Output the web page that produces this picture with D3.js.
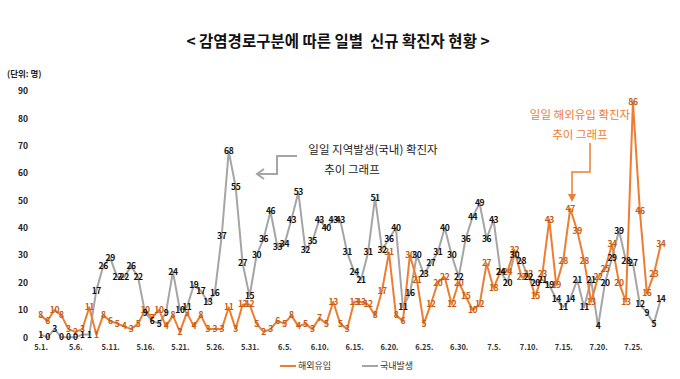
<!DOCTYPE html>
<html>
<head>
<meta charset="utf-8">
<script src="https://cdn.jsdelivr.net/npm/d3@7"></script>
<style>
  body { margin: 0; background: #fff; }
  svg text { font-family: "Noto Sans CJK KR", "Noto Sans", sans-serif; }
</style>
</head>
<body>
<div id="chart"></div>
<script>
// categories: every day from 5.1. to 7.29.
const days = d3.timeDay.range(new Date(2020, 4, 1), new Date(2020, 6, 30))
    .map(d3.timeFormat('%-m.%-d.'));

const tickLabels = ['5.1.', '5.6.', '5.11.', '5.16.', '5.21.', '5.26.', '5.31.',
  '6.5.', '6.10.', '6.15.', '6.20.', '6.25.', '6.30.',
  '7.5.', '7.10.', '7.15.', '7.20.', '7.25.'];

const yTicks = [0, 10, 20, 30, 40, 50, 60, 70, 80, 90];

// 해외유입
const imported = [
  8, 6, 10, 8, 3, 2, 3, 11, 1, 8, 6, 5, 4, 3, 5, 10, 7, 10, 4, 8,
  2, 9, 4, 8, 3, 3, 3, 11, 3, 12, 12, 5, 2, 3, 6, 5, 8, 4, 5, 3,
  7, 5, 13, 5, 3, 13, 13, 12, 8, 17, 31, 8, 6, 30, 21, 5, 12, 20, 22, 12,
  20, 15, 10, 12, 27, 18, 24, 24, 32, 22, 23, 15, 23, 43, 19, 28, 47, 39, 28, 13,
  22, 25, 34, 20, 13, 86, 46, 16, 23, 34
];

// 국내발생
const local = [
  1, 0, 3, 0, 0, 0, 1, 1, 17, 26, 29, 22, 22, 26, 22, 9, 6, 5, 9, 24,
  10, 11, 19, 17, 13, 16, 37, 68, 55, 27, 15, 30, 36, 46, 33, 34, 43, 53, 32, 35,
  43, 40, 43, 43, 31, 24, 21, 31, 51, 32, 36, 40, 11, 16, 30, 23, 27, 31, 40, 30,
  22, 36, 44, 49, 36, 43, 24, 20, 30, 28, 22, 20, 21, 19, 14, 11, 14, 21, 11, 21,
  4, 20, 29, 39, 28, 27, 12, 9, 5, 14
];

const seriesNames = ['해외유입', '국내발생'];
const lineColors = ['#ed7d31', '#a5a5a5'];
const labelColors = ['#c55a11', '#111111'];

class DailyChart {

  constructor(config) {
    this.config = config;
  }

  init() {
    const c = this.config;
    this.svg = d3.select(`#${c.anchor}`)
        .append('svg')
        .attr('width', c.width)
        .attr('height', c.height);

    this.x = d3.scalePoint()
        .domain(days)
        .range([40.5, 660.8]);
    this.y = d3.scaleLinear()
        .domain([0, 90])
        .range([337.3, 91]);

    this.drawFrame();
    this.drawSeries();
    this.drawNotes();
    this.drawLegend();
  }

  drawFrame() {
    const svg = this.svg;

    svg.append('text')
        .attr('x', 338).attr('y', 47)
        .attr('text-anchor', 'middle')
        .attr('font-size', 15.5).attr('font-weight', 'bold')
        .attr('fill', '#111')
        .attr('xml:space', 'preserve')
        .text('< 감염경로구분에 따른 일별  신규 확진자 현황 >');

    svg.append('text')
        .attr('x', 7).attr('y', 77)
        .attr('font-size', 8.5).attr('font-weight', 'bold')
        .attr('fill', '#222')
        .text('(단위: 명)');

    const yAxis = d3.axisLeft(this.y)
        .tickValues(yTicks)
        .tickSize(0)
        .tickPadding(0);
    svg.append('g')
        .attr('transform', 'translate(28,0)')
        .call(yAxis)
        .call((g) => g.select('.domain').remove())
        .selectAll('text')
        .attr('font-size', 8.5).attr('font-weight', 'bold')
        .attr('fill', '#222');

    const xAxis = d3.axisBottom(this.x)
        .tickValues(tickLabels)
        .tickSize(0)
        .tickPadding(0);
    svg.append('g')
        .attr('transform', 'translate(0,345)')
        .call(xAxis)
        .call((g) => g.select('.domain').remove())
        .selectAll('text')
        .attr('font-size', 7.5).attr('font-weight', 'bold')
        .attr('fill', '#333');
  }

  drawSeries() {
    const x = this.x;
    const y = this.y;
    const all = [imported, local];
    const line = d3.line()
        .x((d, i) => x(days[i]))
        .y((d) => y(d));

    // gray first, orange on top
    [1, 0].forEach((s) => {
      this.svg.append('path')
          .datum(all[s])
          .attr('fill', 'none')
          .attr('stroke', lineColors[s])
          .attr('stroke-width', 2)
          .attr('stroke-linejoin', 'round')
          .attr('d', line);
    });

    [0, 1].forEach((s) => {
      this.svg.append('g')
          .selectAll('text')
          .data(all[s])
          .enter()
          .append('text')
          .attr('x', (d, i) => x(days[i]))
          .attr('y', (d) => y(d))
          .attr('dy', '0.35em')
          .attr('text-anchor', 'middle')
          .attr('font-size', 8.5).attr('font-weight', 'bold')
          .attr('letter-spacing', -0.4)
          .attr('fill', labelColors[s])
          .text((d) => d);
    });
  }

  drawNotes() {
    const svg = this.svg;

    // 국내발생 callout
    svg.append('text')
        .attr('x', 373).attr('y', 154)
        .attr('text-anchor', 'middle')
        .attr('font-size', 11.5).attr('fill', '#222')
        .text('일일 지역발생(국내) 확진자');
    svg.append('text')
        .attr('x', 352).attr('y', 174)
        .attr('text-anchor', 'middle')
        .attr('font-size', 11.5).attr('fill', '#222')
        .text('추이 그래프');
    svg.append('path')
        .attr('d', 'M297,156H277V174H258')
        .attr('fill', 'none')
        .attr('stroke', '#a5a5a5')
        .attr('stroke-width', 2);
    svg.append('path')
        .attr('d', 'M264,169L257,174L264,179')
        .attr('fill', 'none')
        .attr('stroke', '#a5a5a5')
        .attr('stroke-width', 2);

    // 해외유입 callout
    svg.append('text')
        .attr('x', 580).attr('y', 119)
        .attr('text-anchor', 'middle')
        .attr('font-size', 11.5).attr('fill', '#ed7d31')
        .text('일일 해외유입 확진자');
    svg.append('text')
        .attr('x', 580).attr('y', 139)
        .attr('text-anchor', 'middle')
        .attr('font-size', 11.5).attr('fill', '#ed7d31')
        .text('추이 그래프');
    svg.append('path')
        .attr('d', 'M590,143V172H572V196')
        .attr('fill', 'none')
        .attr('stroke', '#ed7d31')
        .attr('stroke-width', 1.5);
    svg.append('path')
        .attr('d', 'M568,194L572,202L576,194Z')
        .attr('fill', '#ed7d31');
  }

  drawLegend() {
    const items = [
      { name: seriesNames[0], color: lineColors[0], x: 280 },
      { name: seriesNames[1], color: lineColors[1], x: 362 }
    ];
    const g = this.svg.append('g');
    items.forEach((d) => {
      g.append('line')
          .attr('x1', d.x).attr('x2', d.x + 16)
          .attr('y1', 366).attr('y2', 366)
          .attr('stroke', d.color).attr('stroke-width', 2);
      g.append('text')
          .attr('x', d.x + 18).attr('y', 366)
          .attr('dy', '0.35em')
          .attr('font-size', 9).attr('fill', '#333')
          .text(d.name);
    });
  }

}

new DailyChart({ anchor: 'chart', width: 680, height: 379 }).init();
</script>
</body>
</html>
